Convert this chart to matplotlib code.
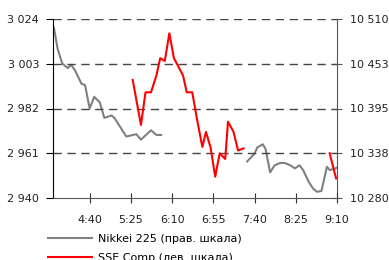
import matplotlib
matplotlib.use('Agg')
import matplotlib.pyplot as plt

# minutes since 4:00
nikkei1_t = [1, 5, 10, 16, 20, 24, 31, 35, 40, 45, 51, 56, 64, 67, 80, 91, 96, 107, 113, 118]
nikkei1_v = [10499, 10472, 10453, 10447, 10451, 10444, 10427, 10425, 10395, 10410, 10403, 10383,
             10386, 10383, 10359, 10362, 10355, 10367, 10361, 10361]
nikkei2_t = [212, 220, 223, 229, 232, 237, 242, 248, 253, 259, 264, 269, 273, 279, 284, 288,
             293, 299, 302, 306, 310]
nikkei2_v = [10327, 10337, 10345, 10349, 10343, 10313, 10322, 10325, 10325, 10322, 10318, 10322,
             10316, 10301, 10292, 10288, 10289, 10320, 10316, 10317, 10319]

sse1_t = [87, 96, 101, 107, 113, 117, 122, 127, 132, 136, 142, 146, 152, 157, 163, 167, 172,
          177, 182, 188, 191, 197, 202, 208]
sse1_v = [2995.4, 2974.3, 2989.6, 2989.6, 2997.7, 3005.6, 3004.3, 3017.3, 3005.6, 3002.4, 2997.4,
          2989.6, 2989.6, 2977.4, 2964.0, 2971.0, 2963.7, 2950.0, 2961.0, 2958.3, 2975.8, 2971.1,
          2962.3, 2963.3]
sse2_t = [302, 309]
sse2_v = [2961.0, 2949.2]

xticks = [40, 85, 130, 175, 220, 265, 310]
xlabels = ['4:40', '5:25', '6:10', '6:55', '7:40', '8:25', '9:10']
lticks = [2940, 2961, 2982, 3003, 3024]
rticks = [10280, 10337.5, 10395, 10452.5, 10510]
rlabels = ['10 280', '10 338', '10 395', '10 453', '10 510']

plt.rcParams['font.family'] = 'DejaVu Sans'
plt.rcParams['font.size'] = 8

fig = plt.figure(figsize=(3.89, 2.6), dpi=100)
ax = fig.add_axes([53/389, 62/260, 284/389, 179/260])
ax2 = ax.twinx()

red = '#ff0000'
grey = '#808080'
ln1, = ax2.plot(nikkei1_t, nikkei1_v, color=grey, lw=1.5, label='Nikkei 225 (прав. шкала)')
ax2.plot(nikkei2_t, nikkei2_v, color=grey, lw=1.5)
ln2, = ax.plot(sse1_t, sse1_v, color=red, lw=1.5, label='SSE Comp (лев. шкала)')
ax.plot(sse2_t, sse2_v, color=red, lw=1.5)
ax.set_zorder(ax2.get_zorder() + 1)
ax.patch.set_visible(False)

ax.set_xlim(0, 310)
ax.set_ylim(2940, 3024)
ax2.set_ylim(10280, 10510)
ax.set_xticks(xticks)
ax.set_xticklabels(xlabels)
ax.set_yticks(lticks)
ax.set_yticklabels([('%d' % v)[0] + ' ' + ('%d' % v)[1:] for v in lticks])
ax2.set_yticks(rticks)
ax2.set_yticklabels(rlabels)

for v in lticks[1:]:
    ax.axhline(v, color='#444444', lw=1, ls=(0, (6, 4)), zorder=0)

for a in (ax, ax2):
    a.spines['top'].set_visible(False)
ax.spines['right'].set_visible(False)
ax2.spines['left'].set_visible(False)
ax2.spines['bottom'].set_visible(False)
ax.spines['left'].set_color('black')
ax.spines['bottom'].set_color('#555555')
ax2.spines['right'].set_color('#555555')
ax.tick_params(axis='y', direction='out', length=5, colors='black', labelcolor='#222222', pad=5)
ax.tick_params(axis='x', direction='inout', length=7, color='#333333', labelcolor='#222222', pad=9)
ax2.tick_params(axis='y', direction='inout', length=7, color='#555555', labelcolor='#222222', pad=5.5)

fig.legend(handles=[ln1, ln2], loc='upper left', bbox_to_anchor=(48/389, 26/260),
           frameon=False, handlelength=4, handletextpad=0.5, borderpad=0,
           borderaxespad=0, labelspacing=0.8, fontsize=8)

plt.savefig('out.png', dpi=100)
